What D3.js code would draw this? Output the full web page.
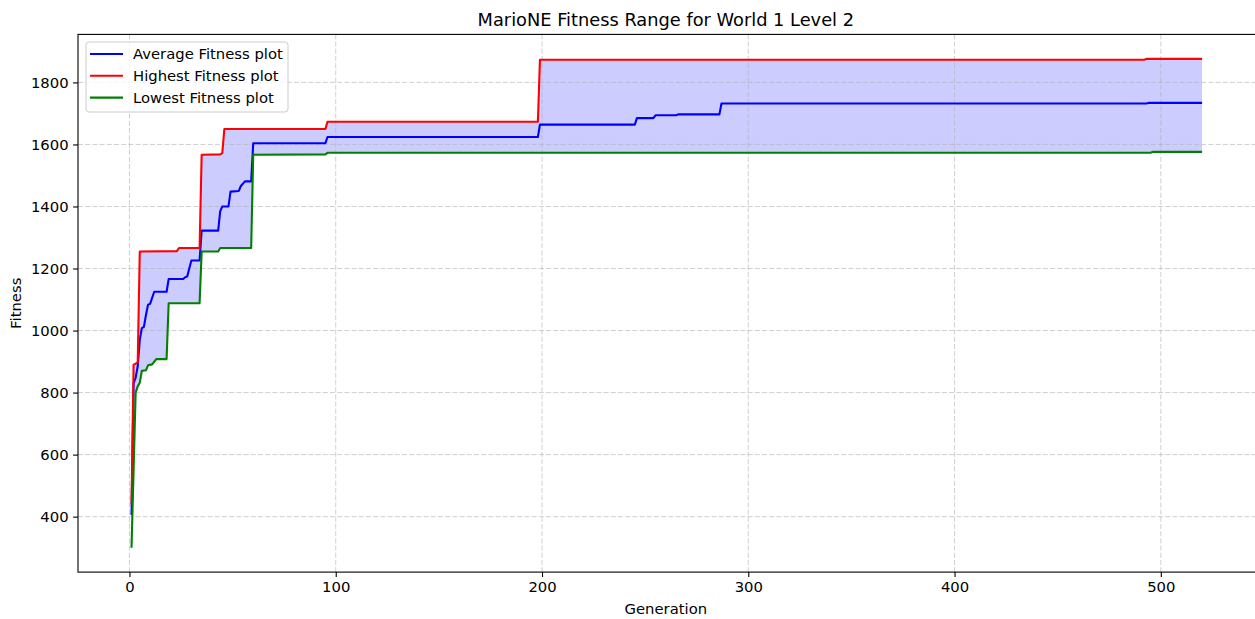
<!DOCTYPE html>
<html>
<head>
<meta charset="utf-8">
<script src="https://cdn.jsdelivr.net/npm/d3@7"></script>
<style>
  body { margin: 0; background: #ffffff; }
  text { font-family: "DejaVu Sans", sans-serif; fill: #000; }
</style>
</head>
<body>
<div id="chart"></div>
<script>
// generations where a value changes, with the value
const avgGens = [1, 2, 3, 4, 5, 6, 7, 8, 9, 10, 12, 18, 19, 26, 27, 28, 30, 34, 35, 43, 44, 45, 48, 49, 53, 54, 56, 59, 60, 95, 96, 198, 199, 245, 246, 254, 255, 265, 266, 286, 287, 493, 494, 520];
const avgFitness = [405, 830, 848, 885, 970, 1008, 1012, 1050, 1083, 1086, 1125, 1125, 1166, 1166, 1172, 1174, 1226, 1226, 1322, 1322, 1385, 1400, 1400, 1448, 1450, 1466, 1481, 1481, 1604, 1604, 1624, 1624, 1664, 1664, 1685, 1685, 1694, 1694, 1697, 1697, 1732, 1732, 1734, 1734];

const highGens = [1, 2, 3, 4, 5, 23, 24, 34, 35, 44, 45, 46, 95, 96, 198, 199, 492, 493, 520];
const highFitness = [440, 890, 893, 898, 1255, 1256, 1266, 1266, 1567, 1568, 1572, 1650, 1650, 1673, 1673, 1873, 1873, 1876, 1876];

const lowGens = [1, 3, 4, 5, 6, 8, 9, 11, 13, 18, 19, 34, 35, 43, 44, 59, 60, 95, 96, 495, 496, 520];
const lowFitness = [300, 800, 820, 832, 870, 872, 888, 891, 908, 908, 1088, 1088, 1255, 1255, 1266, 1266, 1567, 1568, 1573, 1573, 1576, 1576];

const xTicks = [0, 100, 200, 300, 400, 500];
const yTicks = [400, 600, 800, 1000, 1200, 1400, 1600, 1800];

const seriesNames = ["Average Fitness plot", "Highest Fitness plot", "Lowest Fitness plot"];
const seriesColors = ["#0000ff", "#ff0000", "#008000"];

const width = 1255, height = 619;
const plot = { left: 78, right: 1255.6, top: 34.4, bottom: 572.1 };
const fontSize = 14.8, titleFontSize = 17.8;

const toPoints = (gens, vals) => gens.map((g, i) => [g, vals[i]]);
const avgPts = toPoints(avgGens, avgFitness);
const highPts = toPoints(highGens, highFitness);
const lowPts = toPoints(lowGens, lowFitness);

// matplotlib style 5% margins
const xMin = d3.min(highGens), xMax = d3.max(highGens);
const yMin = d3.min(lowFitness), yMax = d3.max(highFitness);
const xPad = (xMax - xMin) * 0.05, yPad = (yMax - yMin) * 0.05;

const x = d3.scaleLinear().domain([xMin - xPad, xMax + xPad]).range([plot.left, plot.right]);
const y = d3.scaleLinear().domain([yMin - yPad, yMax + yPad]).range([plot.bottom, plot.top]);

const svg = d3.select("#chart").append("svg")
  .attr("width", width)
  .attr("height", height);

const clipId = "plot-clip";
svg.append("defs").append("clipPath").attr("id", clipId)
  .append("rect")
  .attr("x", plot.left).attr("y", plot.top)
  .attr("width", plot.right - plot.left).attr("height", plot.bottom - plot.top);

const body = svg.append("g").attr("clip-path", `url(#${clipId})`);

const line = d3.line().x(d => x(d[0])).y(d => y(d[1]));

// fill between highest and lowest
body.append("path")
  .attr("d", line(highPts.concat(lowPts.slice().reverse())) + "Z")
  .attr("fill", "#0000ff")
  .attr("fill-opacity", 0.2)
  .attr("stroke", "none");

// grid
const grid = body.append("g").attr("stroke", "#b0b0b0").attr("stroke-opacity", 0.6)
  .attr("stroke-width", 1).attr("stroke-dasharray", "5,2.2");
grid.selectAll("line.gx").data(xTicks).join("line")
  .attr("class", "gx")
  .attr("x1", d => x(d)).attr("x2", d => x(d))
  .attr("y1", plot.top).attr("y2", plot.bottom);
grid.selectAll("line.gy").data(yTicks).join("line")
  .attr("class", "gy")
  .attr("x1", plot.left).attr("x2", plot.right)
  .attr("y1", d => y(d)).attr("y2", d => y(d));

// series lines: average, highest, lowest (same drawing order as the plot)
[avgPts, highPts, lowPts].forEach((pts, i) => {
  body.append("path")
    .attr("d", line(pts))
    .attr("fill", "none")
    .attr("stroke", seriesColors[i])
    .attr("stroke-width", 2.1)
    .attr("stroke-linejoin", "round");
});

// axes
const xAxis = svg.append("g")
  .attr("transform", `translate(0,${plot.bottom})`)
  .call(d3.axisBottom(x).tickValues(xTicks).tickSize(4.9).tickPadding(4.3).tickFormat(d3.format("d")));
const yAxis = svg.append("g")
  .attr("transform", `translate(${plot.left},0)`)
  .call(d3.axisLeft(y).tickValues(yTicks).tickSize(4.9).tickPadding(4.5).tickFormat(d3.format("d")));

[xAxis, yAxis].forEach(ax => {
  ax.select(".domain").remove();
  ax.selectAll(".tick line").attr("stroke", "#000").attr("stroke-width", 1.1);
  ax.selectAll(".tick text").attr("font-size", fontSize).attr("font-family", "DejaVu Sans");
});

// spines
svg.append("rect")
  .attr("x", plot.left).attr("y", plot.top)
  .attr("width", plot.right - plot.left).attr("height", plot.bottom - plot.top)
  .attr("fill", "none").attr("stroke", "#000").attr("stroke-width", 1.1);

// labels
svg.append("text")
  .attr("x", (plot.left + plot.right) / 2 - 1).attr("y", 25.5)
  .attr("text-anchor", "middle").attr("font-size", titleFontSize)
  .text("MarioNE Fitness Range for World 1 Level 2");

svg.append("text")
  .attr("x", (plot.left + plot.right) / 2 - 1).attr("y", 614)
  .attr("text-anchor", "middle").attr("font-size", fontSize)
  .text("Generation");

svg.append("text")
  .attr("transform", `translate(21,${(plot.top + plot.bottom) / 2}) rotate(-90)`)
  .attr("text-anchor", "middle").attr("font-size", fontSize)
  .text("Fitness");

// legend
const legend = svg.append("g").attr("transform", "translate(86,42)");
legend.append("rect")
  .attr("width", 202).attr("height", 70)
  .attr("rx", 3).attr("ry", 3)
  .attr("fill", "#ffffff").attr("fill-opacity", 0.8)
  .attr("stroke", "#cccccc").attr("stroke-width", 1);

const rows = legend.selectAll("g.row").data(seriesNames).join("g")
  .attr("class", "row")
  .attr("transform", (d, i) => `translate(0,${12 + i * 21.8})`);
rows.append("line")
  .attr("x1", 4).attr("x2", 37)
  .attr("stroke", (d, i) => seriesColors[i]).attr("stroke-width", 2.1);
rows.append("text")
  .attr("x", 47).attr("y", 5.3)
  .attr("font-size", fontSize)
  .text(d => d);
</script>
</body>
</html>
